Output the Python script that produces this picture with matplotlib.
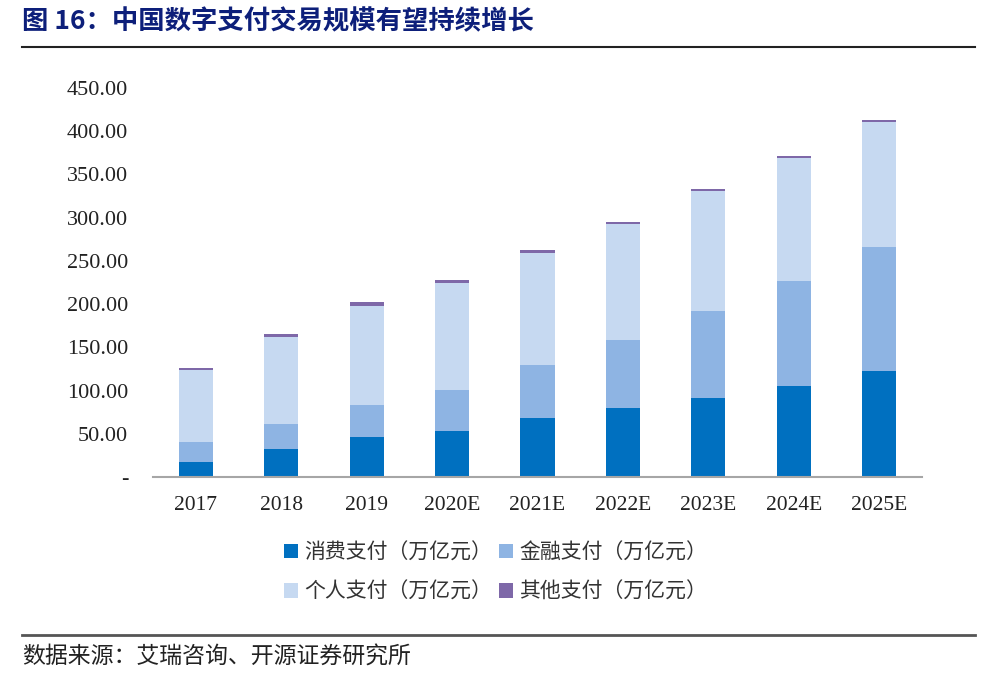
import matplotlib
matplotlib.use("Agg")
import matplotlib.pyplot as plt
from matplotlib.patches import Patch
from matplotlib.lines import Line2D
import numpy as np

years = ["2017", "2018", "2019", "2020E", "2021E", "2022E", "2023E", "2024E", "2025E"]
consumer = [17.0, 32.4, 46.3, 53.2, 68.2, 79.4, 91.7, 105.6, 122.6]
finance = [23.5, 28.9, 37.3, 47.0, 61.3, 79.0, 100.3, 121.4, 143.4]
personal = [83.5, 100.2, 114.2, 123.8, 129.5, 134.1, 138.4, 141.6, 144.2]
other = [2.6, 4.0, 4.2, 3.5, 3.2, 2.4, 2.4, 2.7, 3.2]
series_names = ["消费支付（万亿元）", "金融支付（万亿元）", "个人支付（万亿元）", "其他支付（万亿元）"]
yticks = [0, 50, 100, 150, 200, 250, 300, 350, 400, 450]
ytick_labels = ["-", "50.00", "100.00", "150.00", "200.00", "250.00", "300.00", "350.00", "400.00", "450.00"]
title = "图 16：中国数字支付交易规模有望持续增长"
source = "数据来源：艾瑞咨询、开源证券研究所"

colors = ["#0070C0", "#8EB4E3", "#C6D9F1", "#7E68A8"]

plt.rcParams['font.family'] = ['Liberation Serif', 'Noto Sans CJK SC', 'DejaVu Sans']
fig = plt.figure(figsize=(9.85, 6.73), dpi=100)
ax = fig.add_axes([153/985, 1-477/673, (922-153)/985, (477-88)/673])

x = np.arange(len(years))
w = 0.4
bottom = np.zeros(len(years))
for vals, c in zip([consumer, finance, personal, other], colors):
    ax.bar(x, vals, w, bottom=bottom, color=c, linewidth=0, zorder=2)
    bottom = bottom + np.array(vals)

ax.set_xlim(-0.5, len(years) - 0.5)
ax.set_ylim(0, 450)
ax.set_yticks(yticks)
ax.set_yticklabels(ytick_labels, fontsize=16, color="#222222")
ax.set_xticks(x)
ax.set_xticklabels(years, fontsize=15.5, color="#222222")
ax.tick_params(axis='y', length=0, pad=18)
ax.tick_params(axis='x', length=0, pad=14)
for s in ["top", "right", "left"]:
    ax.spines[s].set_visible(False)
ax.spines["bottom"].set_color("#A6A6A6")
ax.spines["bottom"].set_linewidth(1.5)

handles = [Patch(facecolor=c, edgecolor='none') for c in colors]
order = [0, 2, 1, 3]
fig.legend([handles[i] for i in order], [series_names[i] for i in order], ncol=2,
           loc="center", bbox_to_anchor=(0.503, 0.150),
           frameon=False, prop={'family': ['Noto Sans CJK SC'], 'size': 15},
           handlelength=0.7, handleheight=0.7, handletextpad=0.3, columnspacing=0.3,
           labelspacing=0.85, labelcolor="#333333")

fig.text(22/985, 1-22/673, title, fontsize=19, fontweight='bold', color="#0D1F7A",
         family=['Noto Sans CJK SC'], va='center', ha='left')
fig.add_artist(Line2D([22/985, 975/985], [1-47/673, 1-47/673], color="#222222", linewidth=1.5))
fig.add_artist(Line2D([22/985, 975/985], [1-635/673, 1-635/673], color="#555555", linewidth=2))
fig.text(22/985, 1-657/673, source, fontsize=16.5, color="#222222",
         family=['Noto Sans CJK SC'], va='center', ha='left')

fig.savefig("out.png", dpi=100)
